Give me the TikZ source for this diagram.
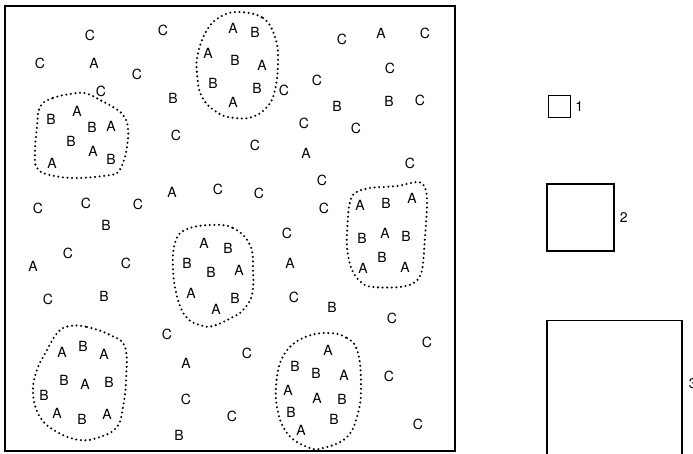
\documentclass[tikz,border=0pt]{standalone}
\usepackage{fontspec}
\setmainfont{TeX Gyre Heros}
\usetikzlibrary{positioning}

\begin{document}
\begin{tikzpicture}[x=1pt, y=-1pt,
  every node/.style={font=\fontsize{14}{16}\selectfont},
  ltr/.style={inner sep=0pt},
  blob/.style={line width=2.3pt, line cap=round, dash pattern=on 0pt off 4.6pt},
  sq/.style={draw, line width=1.2pt, inner sep=0pt},
  frame/.style={draw, line width=1.4pt}
]
  \useasboundingbox (0,0) rectangle (693,453);
  \draw[frame] (5,6) rectangle (455,451);

  % scattered letters
  \foreach \x/\y/\t [count=\i] in {
    90/35/C, 163/30/C, 40/63/C, 94/63/A, 137/74/C, 101/91/C, 173/98/B, 176/135/C,
    38/208/C, 86/203/C, 138/204/C, 172/192/A, 218/189/C, 259/193/C, 106/225/B,
    33/266/A, 68/253/C, 126/263/C, 48/299/C, 104/296/B,
    167/334/C, 186/363/A, 186/399/C, 232/416/C, 179/435/B, 247/353/C,
    284/90/C, 317/80/C, 342/39/C, 381/33/A, 425/33/C, 390/68/C, 337/106/B, 389/101/B, 420/100/C,
    304/123/C, 356/128/C, 255/145/C, 306/153/A, 410/163/C, 322/180/C, 324/208/C,
    287/233/C, 290/263/A, 294/297/C, 332/307/B, 392/318/C, 427/342/C, 389/376/C, 418/424/C}
    \node[ltr] (s\i) at (\x,\y) {\t};

  % letters inside the groups
  \foreach \x/\y/\t [count=\i] in {
    51/119/B, 77/111/A, 92/127/B, 111/126/A, 71/141/B, 93/151/A, 111/159/B, 52/163/A,
    233/28/A, 255/32/B, 208/53/A, 235/60/B, 262/65/A, 213/83/B, 257/88/B, 233/102/A,
    360/205/A, 386/203/B, 412/198/A, 362/238/B, 385/233/A, 406/236/B, 382/257/B, 363/268/A, 405/267/A,
    204/243/A, 228/248/B, 187/263/B, 211/272/B, 239/270/A, 191/293/A, 235/298/B, 216/309/A,
    328/350/A, 295/366/B, 316/373/B, 344/375/A, 288/390/A, 317/398/A, 342/399/B, 291/412/B, 334/419/B, 301/430/A,
    62/352/A, 83/346/B, 104/354/A, 64/380/B, 85/384/A, 109/382/B, 44/395/B, 57/413/A, 82/419/B, 107/414/A}
    \node[ltr] (g\i) at (\x,\y) {\t};

  % dotted outlines
  \draw[blob] plot[smooth cycle, tension=0.7] coordinates {
    (40,107) (53,98) (77,93) (88,94) (100,100) (113,107) (123,115) (128,128)
    (127,147) (123,163) (118,172) (110,175) (77,178) (50,175) (37,168) (35,153) (37,127)};
  \draw[blob] plot[smooth cycle, tension=0.7] coordinates {
    (238,12) (263,18) (275,37) (278,60) (275,90) (267,107) (252,117) (235,118)
    (218,113) (202,97) (197,73) (198,53) (207,30) (220,17)};
  \draw[blob] plot[smooth cycle, tension=0.6] coordinates {
    (355,193) (370,188) (397,186) (418,182) (425,188) (427,203) (425,237) (422,270)
    (415,282) (400,287) (373,287) (362,283) (352,270) (347,247) (348,217) (350,202)};
  \draw[blob] plot[smooth cycle, tension=0.7] coordinates {
    (210,225) (233,228) (250,245) (253,270) (252,295) (243,310) (233,317)
    (213,326) (200,325) (187,318) (178,300) (173,270) (175,243) (185,230)};
  \draw[blob] plot[smooth cycle, tension=0.7] coordinates {
    (327,333) (347,338) (358,353) (361,387) (358,413) (347,437) (323,448) (307,447)
    (287,433) (277,407) (277,377) (285,353) (303,338)};
  \draw[blob] plot[smooth cycle, tension=0.7] coordinates {
    (70,326) (87,327) (110,335) (125,347) (126,380) (123,407) (117,427) (100,437)
    (80,440) (57,432) (40,417) (33,393) (37,370) (47,350) (58,332)};

  % sample squares
  \node[sq, minimum size=22pt] (sq1) at (559.5,106.5) {};
  \node[sq, minimum size=67pt] (sq2) at (580.5,217.5) {};
  \node[sq, minimum size=135pt] (sq3) at (614.5,388) {};
  \node[right=4pt of sq1, inner sep=0pt] (n1) {1};
  \node[right=5pt of sq2, inner sep=0pt] (n2) {2};
  \node[right=6pt of sq3.east, anchor=west, yshift=4pt, inner sep=0pt] (n3) {3};
\end{tikzpicture}
\end{document}
